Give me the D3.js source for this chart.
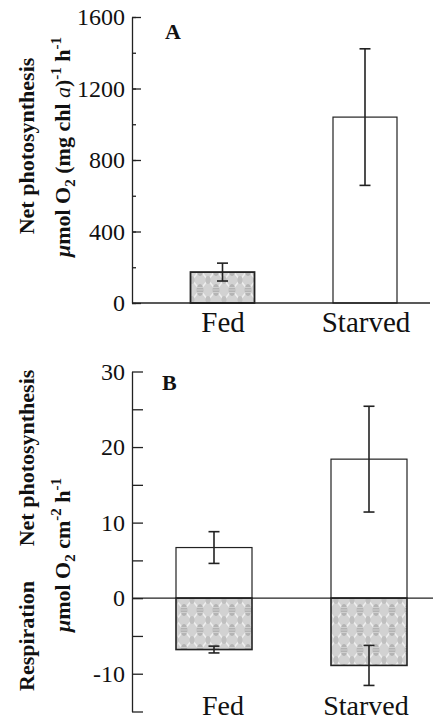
<html>
  <head>
    <script src="https://d3js.org/d3.v7.min.js"></script>
    <style>
      body { margin: 0; background: #fff; }
      text { font-family: "Liberation Serif", "Times New Roman", serif; fill: #111; }
    </style>
  </head>
  <body>
    <svg id="graph" width="433" height="721"></svg>
    <script>
      const categories = ["Fed", "Starved"];
      // panel A: net photosynthesis per chl a
      const chlRate = [173, 1040];
      const chlErr = [50, 382];
      const chlTicks = [0, 400, 800, 1200, 1600];
      // panel B: per area
      const photoRate = [6.7, 18.4];
      const photoErr = [2.1, 7.0];
      const respRate = [-6.8, -8.9];
      const respErr = [0.45, 2.65];
      const areaTicks = [-15, -10, -5, 0, 5, 10, 15, 20, 25, 30];

      const svg = d3.select("#graph");
      const axisX = 132;
      const ink = "#222";

      // grey lace-like fill used for the shaded bars
      const pat = svg.append("defs").append("pattern")
        .attr("id", "lace")
        .attr("patternUnits", "userSpaceOnUse")
        .attr("width", 16).attr("height", 20);
      pat.append("rect").attr("width", 16).attr("height", 20).attr("fill", "#d2d2d2");
      pat.append("path")
        .attr("d", "M0,0L16,20M16,0L0,20")
        .attr("stroke", "#eeeeee").attr("stroke-width", 1.6);
      pat.append("ellipse")
        .attr("cx", 8).attr("cy", 10).attr("rx", 3.4).attr("ry", 6)
        .attr("fill", "#b4b4b4");
      pat.append("path")
        .attr("d", "M4.8,7.5H11.2M4.8,10H11.2M4.8,12.5H11.2")
        .attr("stroke", "#d6d6d6").attr("stroke-width", 0.8);
      [[0, 0], [16, 0], [0, 20], [16, 20]].forEach(c => {
        pat.append("ellipse")
          .attr("cx", c[0]).attr("cy", c[1]).attr("rx", 2.5).attr("ry", 4).attr("fill", "#c0c0c0");
      });

      // category labels share one position scale for both panels
      const xLab = d3.scalePoint().domain(categories).range([223, 366]);
      const xA = d3.scalePoint().domain(categories).range([222.5, 365]);
      const xB = d3.scalePoint().domain(categories).range([214, 369]);
      const bwA = 64, bwB = 76;

      const yA = d3.scaleLinear().domain([0, 1600]).range([303, 17]);
      const yB = d3.scaleLinear().domain([-15, 30]).range([711.5, 371.5]);

      function styleAxis(g) {
        g.selectAll("path,line").attr("stroke", ink).attr("stroke-width", 1.3);
        g.selectAll("text")
          .attr("font-size", 24)
          .attr("font-family", "Liberation Serif")
          .attr("fill", "#111");
      }

      // ---------- panel A ----------
      const gA = svg.append("g");
      gA.append("g")
        .attr("transform", `translate(${axisX},0)`)
        .call(d3.axisLeft(yA).tickValues(d3.range(0, 1601, 200)).tickSize(-4).tickSizeOuter(0).tickFormat(""))
        .call(styleAxis);
      gA.append("g")
        .attr("transform", `translate(${axisX},0)`)
        .call(d3.axisLeft(yA).tickValues(chlTicks).tickSize(-9).tickSizeOuter(0).tickPadding(7).tickFormat(d => String(d)))
        .call(styleAxis)
        .call(g => g.select(".domain").remove());

      gA.selectAll(".barA")
        .data(categories)
        .enter()
        .append("rect")
        .attr("x", d => xA(d) - bwA / 2)
        .attr("y", (d, i) => yA(chlRate[i]))
        .attr("width", bwA)
        .attr("height", (d, i) => yA(0) - yA(chlRate[i]))
        .attr("fill", (d, i) => i === 0 ? "url(#lace)" : "#fff")
        .attr("stroke", ink)
        .attr("stroke-width", (d, i) => i === 0 ? 1.8 : 1.2);

      gA.append("line")
        .attr("x1", axisX).attr("x2", 430)
        .attr("y1", yA(0)).attr("y2", yA(0))
        .attr("stroke", ink).attr("stroke-width", 1.3);

      function errBars(g, xs, vals, errs, cap) {
        const eb = g.selectAll(null).data(categories).enter().append("g")
          .attr("stroke", ink).attr("stroke-width", 1.6);
        eb.append("line")
          .attr("x1", d => xs(d)).attr("x2", d => xs(d))
          .attr("y1", (d, i) => cap.y(vals[i] + errs[i]))
          .attr("y2", (d, i) => cap.y(vals[i] - errs[i]));
        eb.append("line")
          .attr("x1", d => xs(d) - cap.w).attr("x2", d => xs(d) + cap.w)
          .attr("y1", (d, i) => cap.y(vals[i] + errs[i]))
          .attr("y2", (d, i) => cap.y(vals[i] + errs[i]));
        eb.append("line")
          .attr("x1", d => xs(d) - cap.w).attr("x2", d => xs(d) + cap.w)
          .attr("y1", (d, i) => cap.y(vals[i] - errs[i]))
          .attr("y2", (d, i) => cap.y(vals[i] - errs[i]));
      }
      errBars(gA, xA, chlRate, chlErr, { y: yA, w: 5.5 });

      gA.selectAll(".labA")
        .data(categories)
        .enter()
        .append("text")
        .attr("x", d => xLab(d))
        .attr("y", 332)
        .attr("text-anchor", "middle")
        .attr("font-size", 29)
        .text(d => d);

      gA.append("text")
        .attr("x", 165).attr("y", 39)
        .attr("font-size", 22).attr("font-weight", "bold")
        .text("A");

      const tA = gA.append("g").attr("font-weight", "bold").attr("font-size", 22);
      tA.append("text")
        .attr("transform", "translate(34,146) rotate(-90)")
        .attr("text-anchor", "middle")
        .text("Net photosynthesis");
      const lA = tA.append("text")
        .attr("transform", "translate(70,147) rotate(-90)")
        .attr("text-anchor", "middle");
      lA.append("tspan").attr("font-style", "italic").text("\u03bc");
      lA.append("tspan").text("mol O");
      lA.append("tspan").attr("font-size", 15).attr("dy", 5).text("2");
      lA.append("tspan").attr("dy", -5).text(" (mg chl ");
      lA.append("tspan").attr("font-style", "italic").attr("font-weight", "normal").text("a");
      lA.append("tspan").text(")");
      lA.append("tspan").attr("font-size", 15).attr("dy", -9).text("-1");
      lA.append("tspan").attr("dy", 9).text(" h");
      lA.append("tspan").attr("font-size", 15).attr("dy", -9).text("-1");

      // ---------- panel B ----------
      const gB = svg.append("g");
      gB.append("g")
        .attr("transform", `translate(${axisX},0)`)
        .call(d3.axisLeft(yB).tickValues(areaTicks).tickSize(-11).tickSizeOuter(0).tickPadding(7)
          .tickFormat(d => d % 10 === 0 ? String(d) : ""))
        .call(styleAxis);

      gB.selectAll(".posB")
        .data(categories)
        .enter()
        .append("rect")
        .attr("x", d => xB(d) - bwB / 2)
        .attr("y", (d, i) => yB(photoRate[i]))
        .attr("width", bwB)
        .attr("height", (d, i) => yB(0) - yB(photoRate[i]))
        .attr("fill", "#fff")
        .attr("stroke", ink)
        .attr("stroke-width", 1.2);

      gB.selectAll(".negB")
        .data(categories)
        .enter()
        .append("rect")
        .attr("x", d => xB(d) - bwB / 2)
        .attr("y", yB(0))
        .attr("width", bwB)
        .attr("height", (d, i) => yB(respRate[i]) - yB(0))
        .attr("fill", "url(#lace)")
        .attr("stroke", ink)
        .attr("stroke-width", 1.6);

      gB.append("line")
        .attr("x1", axisX).attr("x2", 433)
        .attr("y1", yB(0)).attr("y2", yB(0))
        .attr("stroke", ink).attr("stroke-width", 1.3);

      errBars(gB, xB, photoRate, photoErr, { y: yB, w: 5.5 });
      errBars(gB, xB, respRate, respErr, { y: yB, w: 5.5 });

      gB.selectAll(".labB")
        .data(categories)
        .enter()
        .append("text")
        .attr("x", d => xLab(d))
        .attr("y", 715)
        .attr("text-anchor", "middle")
        .attr("font-size", 28)
        .text(d => d);

      gB.append("text")
        .attr("x", 162).attr("y", 390)
        .attr("font-size", 22).attr("font-weight", "bold")
        .text("B");

      const tB = gB.append("g").attr("font-weight", "bold").attr("font-size", 22);
      tB.append("text")
        .attr("transform", "translate(34,458) rotate(-90)")
        .attr("text-anchor", "middle")
        .text("Net photosynthesis");
      tB.append("text")
        .attr("transform", "translate(34,636) rotate(-90)")
        .attr("text-anchor", "middle")
        .text("Respiration");
      const lB = tB.append("text")
        .attr("transform", "translate(70,555) rotate(-90)")
        .attr("text-anchor", "middle");
      lB.append("tspan").attr("font-style", "italic").text("\u03bc");
      lB.append("tspan").text("mol O");
      lB.append("tspan").attr("font-size", 15).attr("dy", 5).text("2");
      lB.append("tspan").attr("dy", -5).text(" cm");
      lB.append("tspan").attr("font-size", 15).attr("dy", -9).text("-2");
      lB.append("tspan").attr("dy", 9).text(" h");
      lB.append("tspan").attr("font-size", 15).attr("dy", -9).text("-1");
    </script>
  </body>
</html>
